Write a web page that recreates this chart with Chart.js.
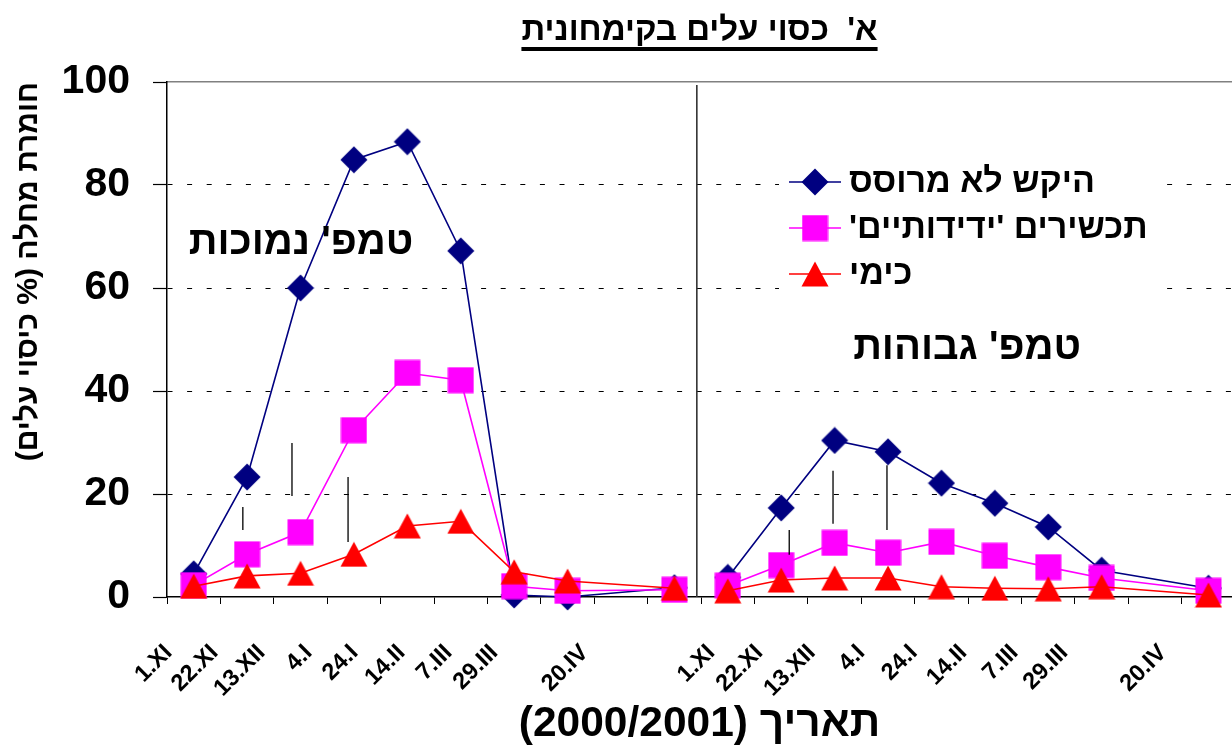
<!DOCTYPE html>
<html>
<head>
<meta charset="utf-8">
<title>כסוי עלים בקימחונית</title>
<script src="https://cdn.jsdelivr.net/npm/chart.js"></script>
<style>
  body { margin: 0; background: #fff; }
  #wrap { width: 1232px; height: 747px; }
</style>
</head>
<body>
<div id="wrap"><canvas id="chart" width="1232" height="747"></canvas></div>
<script>
// ---------------- data ----------------
// one panel = 10 date slots, slot 9 (index 8) is empty
const dates = ['1.XI', '22.XI', '13.XII', '4.I', '24.I', '14.II', '7.III', '29.III', '', '20.IV'];

// low temperatures (left panel)
const lowUntreated = [4.5, 23.3, 60, 84.9, 88.4, 67.2, 0.4, 0, null, 1.8];
const lowFriendly = [2.3, 8.3, 12.6, 32.4, 43.5, 42.1, 2.1, 1.2, null, 1.4];
const lowChemical = [2.1, 4.1, 4.6, 8.3, 13.8, 14.7, 4.9, 3.1, null, 1.7];

// high temperatures (right panel)
const highUntreated = [3.8, 17.3, 30.4, 28.2, 22.1, 18.2, 13.6, 5.2, null, 1.7];
const highFriendly = [2.2, 6.2, 10.5, 8.6, 10.7, 8.0, 5.8, 3.7, null, 1.2];
const highChemical = [1.2, 3.3, 3.7, 3.7, 2.0, 1.7, 1.6, 2.0, null, 0.4];

// small vertical bars (LSD)
const lsdX = [1.42, 2.34, 3.39, 11.65, 12.47, 13.48];
const lsdLow = [13, 19.6, 10.7, 8.2, 14.2, 13];
const lsdHigh = [17.5, 29.9, 23.3, 13, 24.5, 25.6];

const yTicks = [0, 20, 40, 60, 80, 100];

// where the (hand placed) date labels sit on the x axis
const dateLabels = dates.filter(d => d).concat(dates.filter(d => d));
const dateLabelAt = [0.03, 0.89, 1.77, 2.65, 3.51, 4.39, 5.27, 6.13, 7.82,
                     10.19, 11.09, 12.07, 13.00, 13.98, 14.91, 15.87, 16.80, 18.65];

const RLM = '\u200F';
const FONT = '"Liberation Sans", Arial, sans-serif';
const X_MAX = 19.94;

// ---------------- markers ----------------
function marker(shape, color) {
    const c = document.createElement('canvas');
    const g = c.getContext('2d');
    if (shape === 'diamond') {
        c.width = 28; c.height = 28;
        g.fillStyle = color;
        g.beginPath();
        g.moveTo(14, 0.5); g.lineTo(27.5, 14); g.lineTo(14, 27.5); g.lineTo(0.5, 14);
    } else if (shape === 'square') {
        c.width = 27; c.height = 27;
        g.fillStyle = color;
        g.beginPath();
        g.rect(0.5, 0.5, 26, 26);
    } else {
        c.width = 28; c.height = 26;
        g.fillStyle = color;
        g.beginPath();
        g.moveTo(14, 0.5); g.lineTo(27.5, 25.5); g.lineTo(0.5, 25.5);
    }
    g.closePath();
    g.fill();
    return c;
}

const series = [
    { label: 'היקש לא מרוסס', color: '#000080', shape: 'diamond', low: lowUntreated, high: highUntreated, order: 3 },
    { label: "תכשירים 'ידידותיים'", color: '#FF00FF', shape: 'square', low: lowFriendly, high: highFriendly, order: 2 },
    { label: 'כימי', color: '#FF0000', shape: 'triangle', low: lowChemical, high: highChemical, order: 1 }
];
series.forEach(s => { s.img = marker(s.shape, s.color); });

function panel(values, offset) {
    return values
        .map((v, i) => ({ x: offset + i + 0.5, y: v }))
        .filter(p => p.y !== null);
}

const datasets = [];
series.forEach(s => {
    [[s.low, 0], [s.high, 10]].forEach(([vals, off]) => {
        datasets.push({
            label: s.label,
            data: panel(vals, off),
            borderColor: s.color,
            backgroundColor: s.color,
            borderWidth: 1.6,
            pointStyle: s.img,
            pointRadius: 10,
            tension: 0,
            clip: false,
            order: s.order
        });
    });
});

// LSD bars: pairs of points, broken by nulls
const lsdData = [];
lsdX.forEach((x, i) => {
    lsdData.push({ x: x, y: lsdLow[i] }, { x: x, y: lsdHigh[i] }, { x: x, y: null });
});
datasets.push({
    data: lsdData, borderColor: '#000', borderWidth: 1.3,
    pointRadius: 0, spanGaps: false, order: 0
});

// divider between the two panels
datasets.push({
    data: [{ x: 9.92, y: 0 }, { x: 9.92, y: 99.4 }], borderColor: '#333',
    borderWidth: 1.6, pointRadius: 0, order: 4
});

// ---------------- extras: notes, legend, title underline ----------------
const notes = [
    { text: "טמפ' נמוכות", x: 2.51, y: 68.7 },
    { text: "טמפ' גבוהות", x: 14.98, y: 48.4 }
];

const noPad = s => { s.paddingLeft = 0; s.paddingRight = 0; };

const extras = {
    id: 'extras',
    afterDatasetsDraw(chart) {
        const { ctx, scales: { x, y } } = chart;
        ctx.save();
        ctx.fillStyle = '#000';
        ctx.textBaseline = 'middle';
        ctx.textAlign = 'center';
        ctx.font = 'bold 40px ' + FONT;
        notes.forEach(n => {
            ctx.fillText(n.text + RLM, x.getPixelForValue(n.x), y.getPixelForValue(n.y));
        });

        // legend (inside plot, white box)
        ctx.fillStyle = '#fff';
        ctx.fillRect(779, 158, 383, 138);
        ctx.font = 'bold 34px ' + FONT;
        ctx.textAlign = 'left';
        series.forEach((s, i) => {
            const ry = 182 + i * 46;
            ctx.strokeStyle = s.color;
            ctx.lineWidth = 1.6;
            ctx.beginPath();
            ctx.moveTo(789, ry);
            ctx.lineTo(841, ry);
            ctx.stroke();
            ctx.drawImage(s.img, 815 - s.img.width / 2, ry - s.img.height / 2);
            ctx.fillStyle = '#000';
            ctx.fillText(s.label + RLM, 849, ry + 1);
        });
        ctx.restore();
    },
    afterDraw(chart) {
        const tb = chart.titleBlock;
        if (!tb) return;
        const ctx = chart.ctx;
        ctx.save();
        ctx.font = 'bold 33px ' + FONT;
        const w = ctx.measureText(chart.options.plugins.title.text).width;
        const cx = (tb.left + tb.right) / 2;
        ctx.fillStyle = '#000';
        ctx.fillRect(cx - w / 2, 47, w, 4);
        ctx.restore();
    }
};

// ---------------- chart ----------------
new Chart(document.getElementById('chart'), {
    type: 'line',
    data: { datasets: datasets },
    plugins: [extras],
    options: {
        responsive: false,
        animation: false,
        layout: { padding: 0, autoPadding: false },
        plugins: {
            legend: { display: false },
            tooltip: { enabled: false },
            title: {
                display: true,
                fullSize: false,
                text: "א'  כסוי עלים בקימחונית" + RLM,
                color: '#000',
                font: { family: FONT, size: 33, weight: 'bold' },
                padding: { top: 11, bottom: 31.4 }
            }
        },
        scales: {
            xTop: {
                type: 'linear', position: 'top', min: 0, max: X_MAX,
                afterFit: s => { s.height = 0; noPad(s); },
                ticks: { display: false },
                grid: { display: false },
                border: { display: true, color: '#808080', width: 1.5 }
            },
            x: {
                type: 'linear', position: 'bottom', weight: 0, min: 0, max: X_MAX,
                afterBuildTicks: s => { s.ticks = dates.concat(dates).map((d, i) => ({ value: i })); },
                afterFit: s => { s.height = 7; noPad(s); },
                ticks: { display: false },
                grid: { display: true, drawOnChartArea: false, drawTicks: true, tickLength: 7, color: '#000', lineWidth: 1 },
                border: { display: true, color: '#000', width: 1.5 }
            },
            x2: {
                type: 'linear', position: 'bottom', weight: 1, min: 0, max: X_MAX,
                afterBuildTicks: s => { s.ticks = dateLabelAt.map(v => ({ value: v })); },
                afterFit: s => { s.height = 143; noPad(s); },
                grid: { display: false },
                border: { display: false },
                ticks: {
                    autoSkip: false, minRotation: 45, maxRotation: 45, padding: 27,
                    color: '#000', font: { family: FONT, size: 23.5, weight: 'bold' },
                    callback: (v, i) => dateLabels[i]
                },
                title: {
                    display: true, text: 'תאריך (2000/2001)' + RLM, color: '#000',
                    font: { family: FONT, size: 42.5, weight: 'bold' },
                    padding: { top: 0, bottom: -3 }
                }
            },
            y: {
                min: 0, max: 100,
                afterBuildTicks: s => { s.ticks = yTicks.map(v => ({ value: v })); },
                afterFit: s => { s.width = 167; },
                ticks: { color: '#000', padding: 23, font: { family: FONT, size: 41, weight: 'bold' } },
                grid: {
                    color: c => (c.tick && (c.tick.value === 0 || c.tick.value === 100)) ? 'rgba(0,0,0,0)' : '#000',
                    lineWidth: 1, tickLength: 14, tickColor: '#000', tickWidth: 1.2,
                    tickBorderDash: [], borderDash: [5, 14.6]
                },
                border: { display: true, color: '#000', width: 1.5, dash: [5, 14.6] },
                title: {
                    display: true, align: 'end', text: 'חומרת מחלה (% כיסוי עלים)' + RLM, color: '#000',
                    font: { family: FONT, size: 30, weight: 'bold' },
                    padding: { top: 11, bottom: 0 }
                }
            }
        }
    }
});
</script>
</body>
</html>
